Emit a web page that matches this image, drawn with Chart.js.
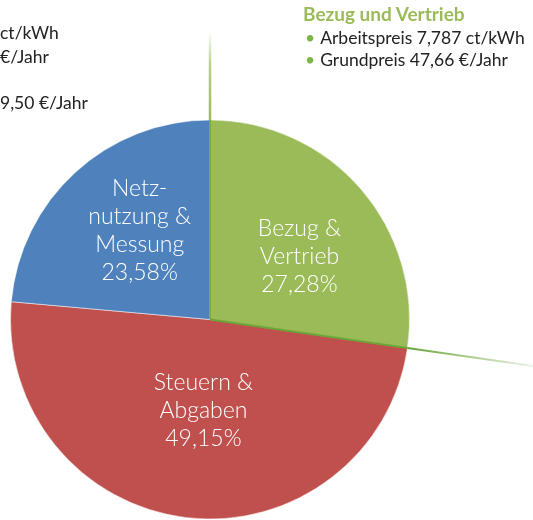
<!DOCTYPE html>
<html>
<head>
<meta charset="utf-8">
<script src="https://cdn.jsdelivr.net/npm/chart.js@4.4.1/dist/chart.umd.min.js"></script>
<style>
  html, body { margin: 0; padding: 0; background: #fff; }
  #wrap { position: relative; width: 533px; height: 520px; overflow: hidden; font-family: Lato, "Noto Sans", sans-serif; }
  #pie { position: absolute; left: 0; top: 0; }
  .t { position: absolute; font-size: 17.5px; color: #222; white-space: nowrap; line-height: 20px; }
  .head { color: #9bbb59; font-weight: bold; font-size: 19px; }
  .dot { color: #7ab648; margin-right: 5px; }
</style>
</head>
<body>
<div id="wrap">
  <canvas id="pie" width="533" height="520"></canvas>
  <div class="t" style="left:0; top:23px;">ct/kWh</div>
  <div class="t" style="left:0; top:47px;">€/Jahr</div>
  <div class="t" style="left:0; top:93px;">9,50 €/Jahr</div>
  <div class="t head" style="left:303px; top:4px;">Bezug und Vertrieb</div>
  <div class="t" style="left:305px; top:28px;"><span class="dot">•</span>Arbeitspreis 7,787 ct/kWh</div>
  <div class="t" style="left:305px; top:50px;"><span class="dot">•</span>Grundpreis 47,66 €/Jahr</div>
</div>
<script>
const categories = ['Bezug & Vertrieb', 'Steuern & Abgaben', 'Netznutzung & Messung'];
const shares = [27.28, 49.15, 23.58];
const sliceColors = ['#9bbb59', '#c0504d', '#4f81bd'];
const labelLines = [
    ['Bezug &', 'Vertrieb', '27,28%'],
    ['Steuern &', 'Abgaben', '49,15%'],
    ['Netz-', 'nutzung &', 'Messung', '23,58%']
];
// small nudges so the text sits where it does in the picture
const labelShift = [[14, 2], [5, -8], [-3, -15]];

// green leader lines along the edges of the first slice
const leaderLines = {
    id: 'leaderLines',
    afterDatasetsDraw(chart) {
        const arc = chart.getDatasetMeta(0).data[0];
        const ctx = chart.ctx;
        const cx = arc.x, cy = arc.y, r = arc.outerRadius;
        ctx.save();
        ctx.lineWidth = 2;
        // start edge (straight up)
        let a = arc.startAngle;
        ctx.strokeStyle = '#78ad45';
        ctx.beginPath();
        ctx.moveTo(cx, cy);
        ctx.lineTo(cx + Math.cos(a) * r, cy + Math.sin(a) * r);
        ctx.stroke();
        let x0 = cx + Math.cos(a) * r, y0 = cy + Math.sin(a) * r;
        let x1 = cx + Math.cos(a) * (r + 90), y1 = cy + Math.sin(a) * (r + 90);
        let g = ctx.createLinearGradient(x0, y0, x1, y1);
        g.addColorStop(0, 'rgba(155,187,89,1)');
        g.addColorStop(0.6, 'rgba(155,187,89,0.7)');
        g.addColorStop(1, 'rgba(155,187,89,0)');
        ctx.strokeStyle = g;
        ctx.lineWidth = 2.5;
        ctx.beginPath();
        ctx.moveTo(x0, y0);
        ctx.lineTo(x1, y1);
        ctx.stroke();
        // end edge, running out to the right
        a = arc.endAngle;
        ctx.lineWidth = 2;
        ctx.strokeStyle = '#6aa536';
        ctx.beginPath();
        ctx.moveTo(cx, cy);
        ctx.lineTo(cx + Math.cos(a) * r, cy + Math.sin(a) * r);
        ctx.stroke();
        x0 = cx + Math.cos(a) * r; y0 = cy + Math.sin(a) * r;
        x1 = cx + Math.cos(a) * (r + 130); y1 = cy + Math.sin(a) * (r + 130);
        g = ctx.createLinearGradient(x0, y0, x1, y1);
        g.addColorStop(0, 'rgba(106,165,54,1)');
        g.addColorStop(1, 'rgba(106,165,54,0.1)');
        ctx.strokeStyle = g;
        ctx.beginPath();
        ctx.moveTo(x0, y0);
        ctx.lineTo(x1, y1);
        ctx.stroke();
        ctx.restore();
    }
};

const sliceLabels = {
    id: 'sliceLabels',
    afterDatasetsDraw(chart) {
        const ctx = chart.ctx;
        const lh = 28;
        ctx.save();
        ctx.fillStyle = '#ffffff';
        ctx.font = '300 23px Lato, "Noto Sans", sans-serif';
        ctx.textAlign = 'center';
        ctx.textBaseline = 'middle';
        chart.getDatasetMeta(0).data.forEach((arc, i) => {
            const p = arc.tooltipPosition();
            const lines = labelLines[i];
            const top = p.y + labelShift[i][1] - (lines.length - 1) * lh / 2;
            lines.forEach((s, k) => {
                ctx.fillText(s, p.x + labelShift[i][0], top + k * lh);
            });
        });
        ctx.restore();
    }
};

new Chart(document.getElementById('pie'), {
    type: 'pie',
    data: {
        labels: categories,
        datasets: [{
            data: shares,
            backgroundColor: sliceColors,
            borderColor: 'rgba(255,255,255,0.5)',
            borderWidth: 1,
            hoverOffset: 0
        }]
    },
    options: {
        responsive: false,
        animation: false,
        layout: { padding: { left: 10, top: 119, right: 123, bottom: 0 } },
        plugins: {
            legend: { display: false },
            tooltip: { enabled: false }
        }
    },
    plugins: [leaderLines, sliceLabels]
});
</script>
</body>
</html>
